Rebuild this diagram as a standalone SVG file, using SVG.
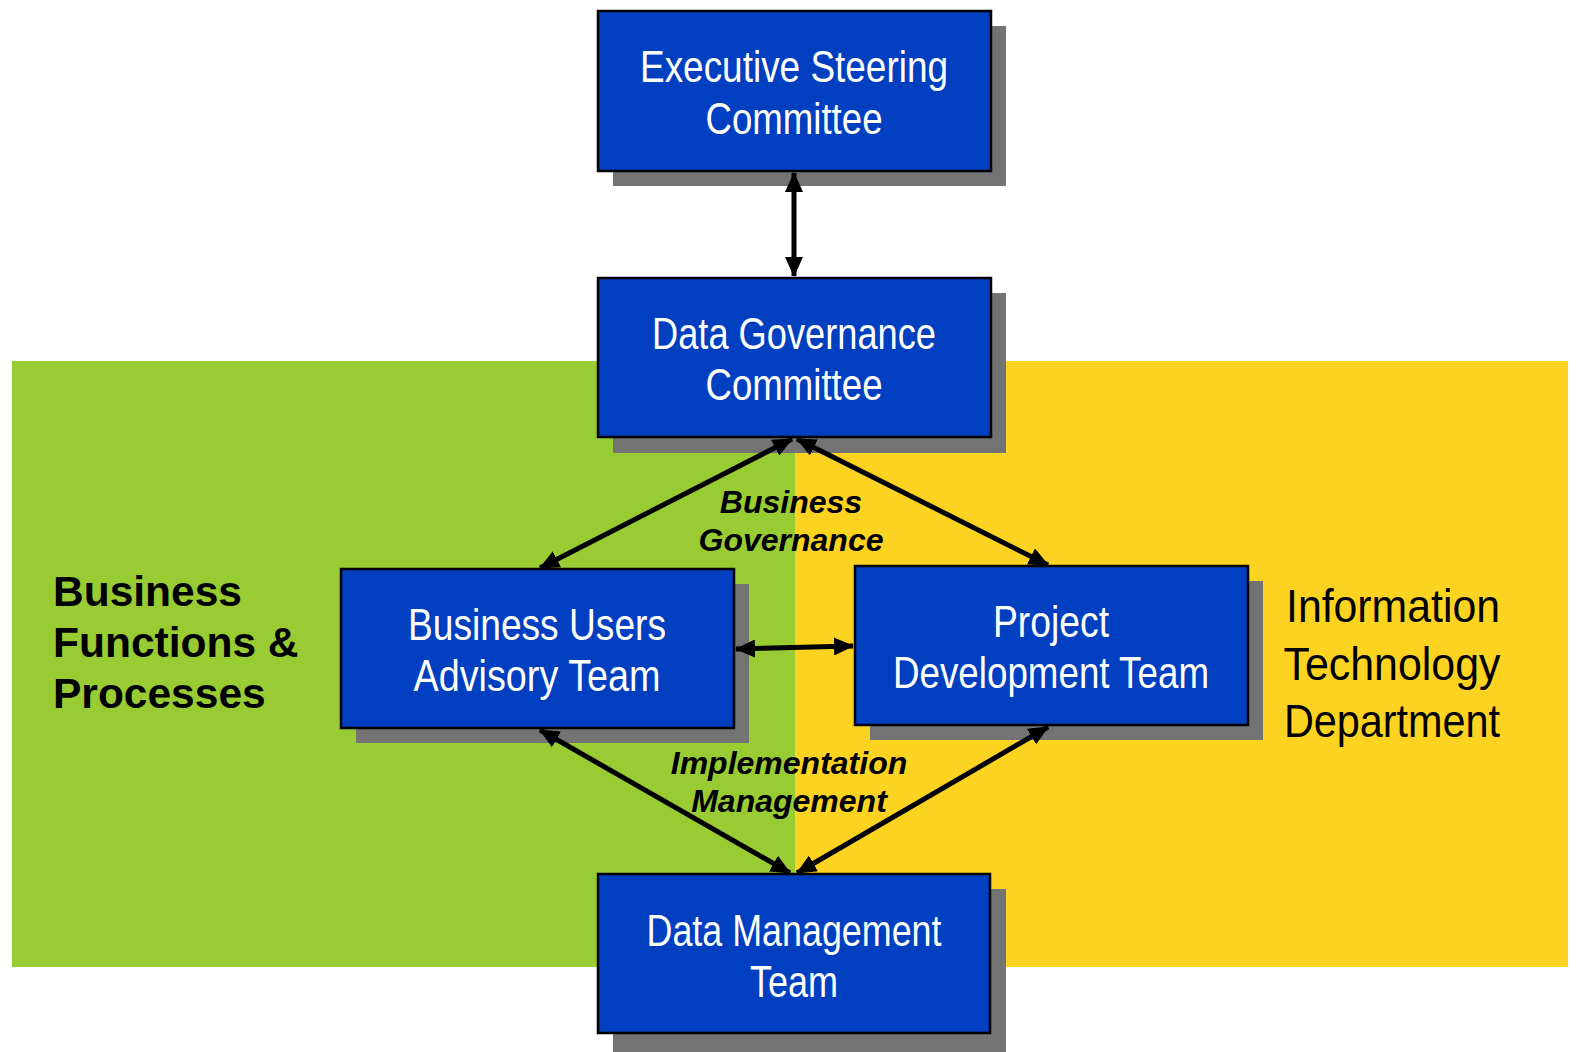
<svg xmlns="http://www.w3.org/2000/svg" width="1577" height="1052" viewBox="0 0 1577 1052">
<style>
.box{fill:#0040C0;stroke:#000;stroke-width:2.5}
.shadow{fill:#737373}
.bt{fill:#fff;font-family:"Liberation Sans",Arial,sans-serif;font-size:44px;text-anchor:middle}
.lbl{fill:#000;font-family:"Liberation Sans",Arial,sans-serif;font-weight:bold;font-size:42.5px}
.it{fill:#000;font-family:"Liberation Sans",Arial,sans-serif;font-weight:bold;font-style:italic;font-size:32px;text-anchor:middle}
.it2{fill:#000;font-family:"Liberation Sans",Arial,sans-serif;font-size:47px;text-anchor:middle}
.conn{stroke:#000;stroke-width:5;fill:none;marker-start:url(#ah);marker-end:url(#ah)}
</style>
<defs>
<marker id="ah" markerUnits="userSpaceOnUse" markerWidth="20" markerHeight="18" viewBox="0 0 20 18" refX="19" refY="9" orient="auto-start-reverse">
<path d="M0,0 L20,9 L0,18 Z" fill="#000"/>
</marker>
</defs>
<rect width="1577" height="1052" fill="#fff"/>
<g id="background">
<rect x="12" y="361" width="783" height="606" fill="#99CC33"/>
<rect x="795" y="361" width="773" height="606" fill="#FDD322"/>
</g>
<g id="exec">
<rect class="shadow" x="613" y="26" width="393" height="160"/>
<rect class="box" x="598" y="11" width="393" height="160"/>
<text class="bt" x="794" y="82" textLength="308" lengthAdjust="spacingAndGlyphs">Executive Steering</text>
<text class="bt" x="794" y="134" textLength="177" lengthAdjust="spacingAndGlyphs">Committee</text>
</g>
<g id="dgc">
<rect class="shadow" x="613" y="293" width="393" height="160"/>
<rect class="box" x="598" y="278" width="393" height="159"/>
<text class="bt" x="794" y="349" textLength="284" lengthAdjust="spacingAndGlyphs">Data Governance</text>
<text class="bt" x="794" y="400" textLength="177" lengthAdjust="spacingAndGlyphs">Committee</text>
</g>
<g id="buat">
<rect class="shadow" x="356" y="584" width="393" height="159"/>
<rect class="box" x="341" y="569" width="393" height="159"/>
<text class="bt" x="537" y="640" textLength="258" lengthAdjust="spacingAndGlyphs">Business Users</text>
<text class="bt" x="537" y="691" textLength="247" lengthAdjust="spacingAndGlyphs">Advisory Team</text>
</g>
<g id="pdt">
<rect class="shadow" x="870" y="581" width="393" height="159"/>
<rect class="box" x="855" y="566" width="393" height="159"/>
<text class="bt" x="1051" y="637" textLength="116" lengthAdjust="spacingAndGlyphs">Project</text>
<text class="bt" x="1051" y="688" textLength="316" lengthAdjust="spacingAndGlyphs">Development Team</text>
</g>
<g id="dmt">
<rect class="shadow" x="613" y="889" width="393" height="163"/>
<rect class="box" x="598" y="874" width="392" height="159"/>
<text class="bt" x="794" y="946" textLength="295" lengthAdjust="spacingAndGlyphs">Data Management</text>
<text class="bt" x="794" y="997" textLength="88" lengthAdjust="spacingAndGlyphs">Team</text>
</g>
<g id="connectors">
<line class="conn" x1="794" y1="173" x2="794" y2="276"/>
<line class="conn" x1="792" y1="439" x2="540" y2="568"/>
<line class="conn" x1="797" y1="439" x2="1048" y2="565"/>
<line class="conn" x1="736" y1="649" x2="853" y2="646"/>
<line class="conn" x1="540" y1="730" x2="790" y2="873"/>
<line class="conn" x1="1048" y1="727" x2="797" y2="873"/>
</g>
<g id="labels">
<text class="lbl" x="53" y="606">Business</text>
<text class="lbl" x="53" y="657">Functions &amp;</text>
<text class="lbl" x="53" y="708">Processes</text>
<text class="it2" x="1393" y="622" textLength="214" lengthAdjust="spacingAndGlyphs">Information</text>
<text class="it2" x="1392" y="680" textLength="217" lengthAdjust="spacingAndGlyphs">Technology</text>
<text class="it2" x="1392" y="737" textLength="216" lengthAdjust="spacingAndGlyphs">Department</text>
<text class="it" x="791" y="513">Business</text>
<text class="it" x="791" y="551">Governance</text>
<text class="it" x="789" y="774">Implementation</text>
<text class="it" x="789" y="812">Management</text>
</g>
</svg>
